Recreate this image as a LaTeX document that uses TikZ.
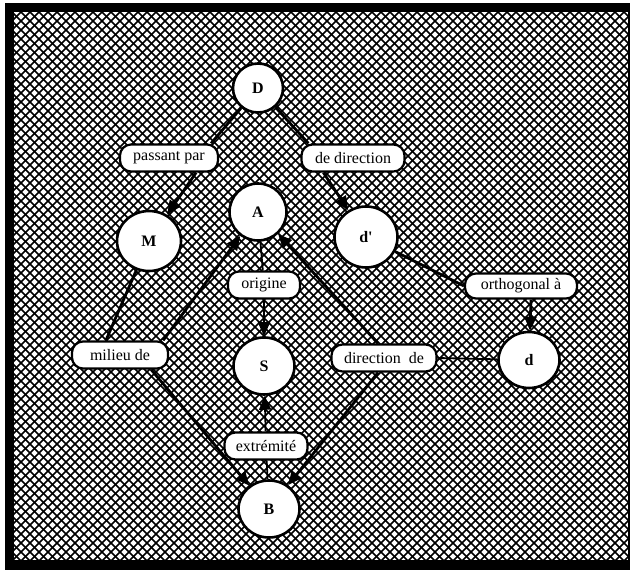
\documentclass[tikz,border=0pt]{standalone}
\usepackage{fontspec}
\setmainfont{Liberation Serif}
\usetikzlibrary{arrows.meta,shapes.geometric}
\begin{document}
\begin{tikzpicture}[x=1pt,y=-1pt,
  ent/.style={ellipse,draw,line width=2.6pt,fill=white,minimum width=61pt,minimum height=57pt,inner sep=0pt,font=\fontsize{16}{18}\selectfont\bfseries},
  rel/.style={rectangle,rounded corners=11pt,draw,line width=2.2pt,fill=white,minimum height=27pt,inner xsep=2pt,inner ysep=2pt,font=\fontsize{16}{18}\selectfont},
  thk/.style={line width=2.8pt},
  thn/.style={line width=1.8pt},
  arr/.style={-{Triangle[length=14pt,width=12pt]}},
  hatch/.style={line width=1.6pt,black}]
\useasboundingbox (0,0) rectangle (630,570);
\fill[white] (0,0) rectangle (630,570);
\fill[black] (5,3) rectangle (630,570);
\fill[white] (14,12) rectangle (628,560);
\begin{scope}
\clip (14,12) rectangle (628,560);
\foreach \i in {-603,-594,...,666}{
  \draw[hatch] (\i,0) -- ++(600,600);
  \draw[hatch] (\i,600) -- ++(600,-600);
}
\end{scope}
% entities
\node[ent,minimum width=50pt,minimum height=49pt] (D) at (258,88) {D};
\node[ent,minimum width=57pt,minimum height=57pt] (A) at (258,212) {A};
\node[ent,minimum width=64pt,minimum height=60pt] (M) at (149,241) {M};
\node[ent,minimum width=63pt,minimum height=61pt] (dp) at (366,237) {d\textquotesingle};
\node[ent] (S) at (264,366) {S};
\node[ent,minimum height=56pt] (d) at (529,360) {d};
\node[ent] (B) at (269,509) {B};
% relations
\node[rel,minimum width=98pt] (pp) at (169,158) {passant par};
\node[rel,minimum width=103pt] (dd) at (353,158) {de direction};
\node[rel,minimum width=72pt] (orig) at (264,285) {origine};
\node[rel,minimum width=96pt] (mil) at (120,355) {milieu de};
\node[rel,minimum width=112pt,minimum height=25pt] (orth) at (521,286) {orthogonal à};
\node[rel,minimum width=105pt] (dirde) at (384,358) {direction\ \ de};
\node[rel,minimum width=83pt] (ext) at (266,446) {extrémité};
% connectors
\draw[thk] (D) -- ([xshift=-8pt]pp.north east);
\draw[thk,arr] ([xshift=-23pt]pp.south east) -- (M);
\draw[thk] (D) -- ([xshift=8pt]dd.north west);
\draw[thk,arr] ([xshift=23pt]dd.south west) -- (dp);
\draw[thk] (M) -- ([xshift=35pt]mil.north west);
\draw[thk,arr] ([xshift=-6pt]mil.north east) -- (A);
\draw[thk,arr] ([xshift=-18pt]mil.south east) -- (B);
\draw[thk,arr] ([xshift=-6pt]dirde.north) -- (A);
\draw[thk,arr] ([xshift=-6pt]dirde.south) -- (B);
\draw[thn] (dirde.east) -- (d);
\draw[thn] (A) -- (orig);
\draw[thn,arr] (orig) -- (S);
\draw[thn] (B) -- (ext);
\draw[thn,arr] (ext) -- (S);
\draw[thk] (dp) -- (orth.west);
\draw[thk,arr] ([xshift=10pt]orth.south) -- (d);
\end{tikzpicture}
\end{document}
